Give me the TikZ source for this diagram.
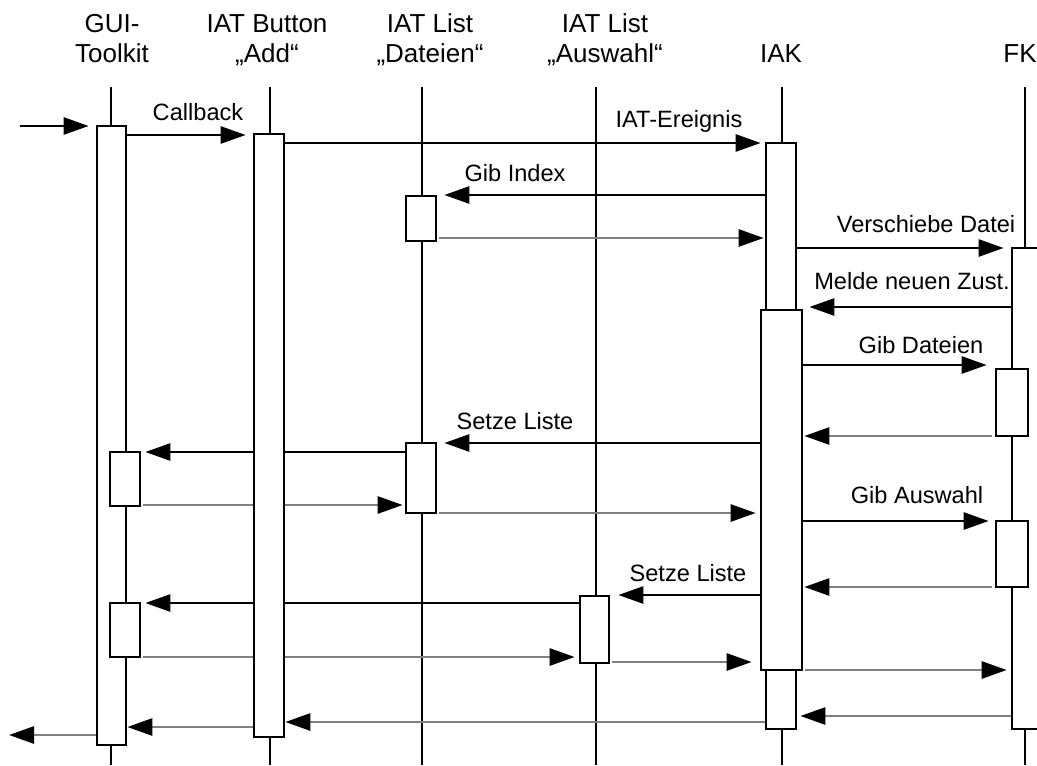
\documentclass[tikz,border=0pt]{standalone}
\usepackage{fontspec}
\setmainfont{Liberation Sans}
\usetikzlibrary{arrows.meta,fit}
\pgfdeclarelayer{bg}
\pgfsetlayers{bg,main}
\definecolor{retgray}{HTML}{7F7F7F}
\begin{document}
\begin{tikzpicture}[x=0.5pt,y=-0.5pt,
  life/.style={line width=1.35pt,black},
  bar/.style={draw=black,fill=white,line width=1.35pt,inner sep=0pt,fit={#1}},
  msg/.style={line width=1.35pt,black,-{Triangle[length=12.5pt,width=8.5pt]}},
  ret/.style={line width=1.35pt,retgray,-{Triangle[length=12.5pt,width=8.5pt,color=black]}},
  hdr/.style={font=\fontsize{13pt}{15pt}\selectfont,anchor=base,inner sep=0pt},
  lbl/.style={font=\fontsize{11.8pt}{14pt}\selectfont,anchor=base,inner sep=0pt},
]
\useasboundingbox (0,0) rectangle (1037,765);

% headers
\node[hdr] (h1a) at (112,33) {GUI-};
\node[hdr] (h1b) at (112,63) {Toolkit};
\node[hdr] (h2a) at (267,33) {IAT Button};
\node[hdr] (h2b) at (267,63) {„Add“};
\node[hdr] (h3a) at (430,33) {IAT List};
\node[hdr] (h3b) at (430,63) {„Dateien“};
\node[hdr] (h4a) at (605,33) {IAT List};
\node[hdr] (h4b) at (605,63) {„Auswahl“};
\node[hdr] (h5) at (781,63) {IAK};
\node[hdr] (h6) at (1020,63) {FK};

% lifeline tops
\coordinate (lgui) at (111,87);
\coordinate (lbtn) at (270,87);
\coordinate (ldat) at (422,87);
\coordinate (laus) at (596,87);
\coordinate (liak) at (782,87);
\coordinate (lfk) at (1025,87);
\coordinate (start) at (20,126);
\coordinate (out) at (9,735);

% activation bars
\node[bar={(97,126) (126,745)}] (gui) {};
\node[bar={(254,134) (284,737)}] (btn) {};
\node[bar={(766,143) (796,310)}] (iak1) {};
\node[bar={(766,670) (796,729)}] (iak3) {};
\node[bar={(761,310) (802,670)}] (iak2) {};
\node[bar={(1012,248) (1042,729)}] (fk) {};
\node[bar={(996,369) (1028,436)}] (fkn1) {};
\node[bar={(996,521) (1028,587)}] (fkn2) {};
\node[bar={(406,196) (436,241)}] (dat1) {};
\node[bar={(406,443) (436,513)}] (dat2) {};
\node[bar={(580,596) (609,663)}] (aus) {};
\node[bar={(110,452) (140,506)}] (gui1) {};
\node[bar={(110,603) (140,657)}] (gui2) {};

% labels
\node[lbl] (lcb) at (198,120) {Callback};
\node[lbl] (lev) at (679,127) {IAT-Ereignis};
\node[lbl] (lgi) at (515,181) {Gib Index};
\node[lbl] (lvd) at (926,232) {Verschiebe Datei};
\node[lbl] (lmz) at (912,289) {Melde neuen Zust.};
\node[lbl] (lgd) at (921,353) {Gib Dateien};
\node[lbl] (ls1) at (515,429) {Setze Liste};
\node[lbl] (lga) at (917,503) {Gib Auswahl};
\node[lbl] (ls2) at (688,581) {Setze Liste};

\begin{pgfonlayer}{bg}
\foreach \c in {lgui,lbtn,ldat,laus,liak,lfk}
  \draw[life] (\c) -- (\c |- 0,765);

\draw[msg,shorten >=3.5pt] (start) -- (gui.west |- start);
\draw[msg,shorten >=3.5pt] (gui.east |- 0,135) -- (btn.west |- 0,135);
\draw[msg,shorten >=2pt] (btn.east |- 0,143) -- (iak1.west |- 0,143);
\draw[msg,shorten >=3.5pt] (iak1.west |- 0,195) -- (dat1.east |- 0,195);
\draw[ret,shorten <=1pt,shorten >=0.5pt] (dat1.east |- 0,238) -- (iak1.west |- 0,238);
\draw[msg,shorten >=3.5pt] (iak1.east |- 0,248) -- (fk.west |- 0,248);
\draw[msg,shorten >=6pt] (fk.west |- 0,307) -- (iak1.east |- 0,307);
\draw[msg,shorten >=4pt] (iak2.east |- 0,365) -- (fkn1.west |- 0,365);
\draw[ret,shorten <=1.5pt,shorten >=0.5pt] (fkn1.west |- 0,436) -- (iak2.east |- 0,436);
\draw[msg,shorten >=3.5pt] (iak2.west |- 0,443) -- (dat2.east |- 0,443);
\draw[msg,shorten >=2pt] (dat2.west |- 0,452) -- (gui1.east |- 0,452);
\draw[ret,shorten <=1pt,shorten >=1pt] (gui1.east |- 0,505) -- (dat2.west |- 0,505);
\draw[ret,shorten <=1pt,shorten >=2pt] (dat2.east |- 0,513) -- (iak2.west |- 0,513);
\draw[msg,shorten >=3pt] (iak2.east |- 0,521) -- (fkn2.west |- 0,521);
\draw[ret,shorten <=1.5pt,shorten >=0.5pt] (fkn2.west |- 0,587) -- (iak2.east |- 0,587);
\draw[msg,shorten >=4pt] (iak2.west |- 0,595) -- (aus.east |- 0,595);
\draw[msg,shorten >=2pt] (aus.west |- 0,603) -- (gui2.east |- 0,603);
\draw[ret,shorten <=1pt,shorten >=2pt] (gui2.east |- 0,657) -- (aus.west |- 0,657);
\draw[ret,shorten <=1pt,shorten >=4pt] (aus.east |- 0,662) -- (iak2.west |- 0,662);
\draw[ret,shorten <=1pt,shorten >=2pt] (iak2.east |- 0,670) -- (fk.west |- 0,670);
\draw[ret,shorten >=1.5pt] (fk.west |- 0,716) -- (iak3.east |- 0,716);
\draw[ret] (iak3.west |- 0,722) -- (btn.east |- 0,722);
\draw[ret] (btn.west |- 0,727) -- (gui.east |- 0,727);
\draw[ret] (gui.west |- 0,735) -- (out);
\end{pgfonlayer}
\end{tikzpicture}
\end{document}
